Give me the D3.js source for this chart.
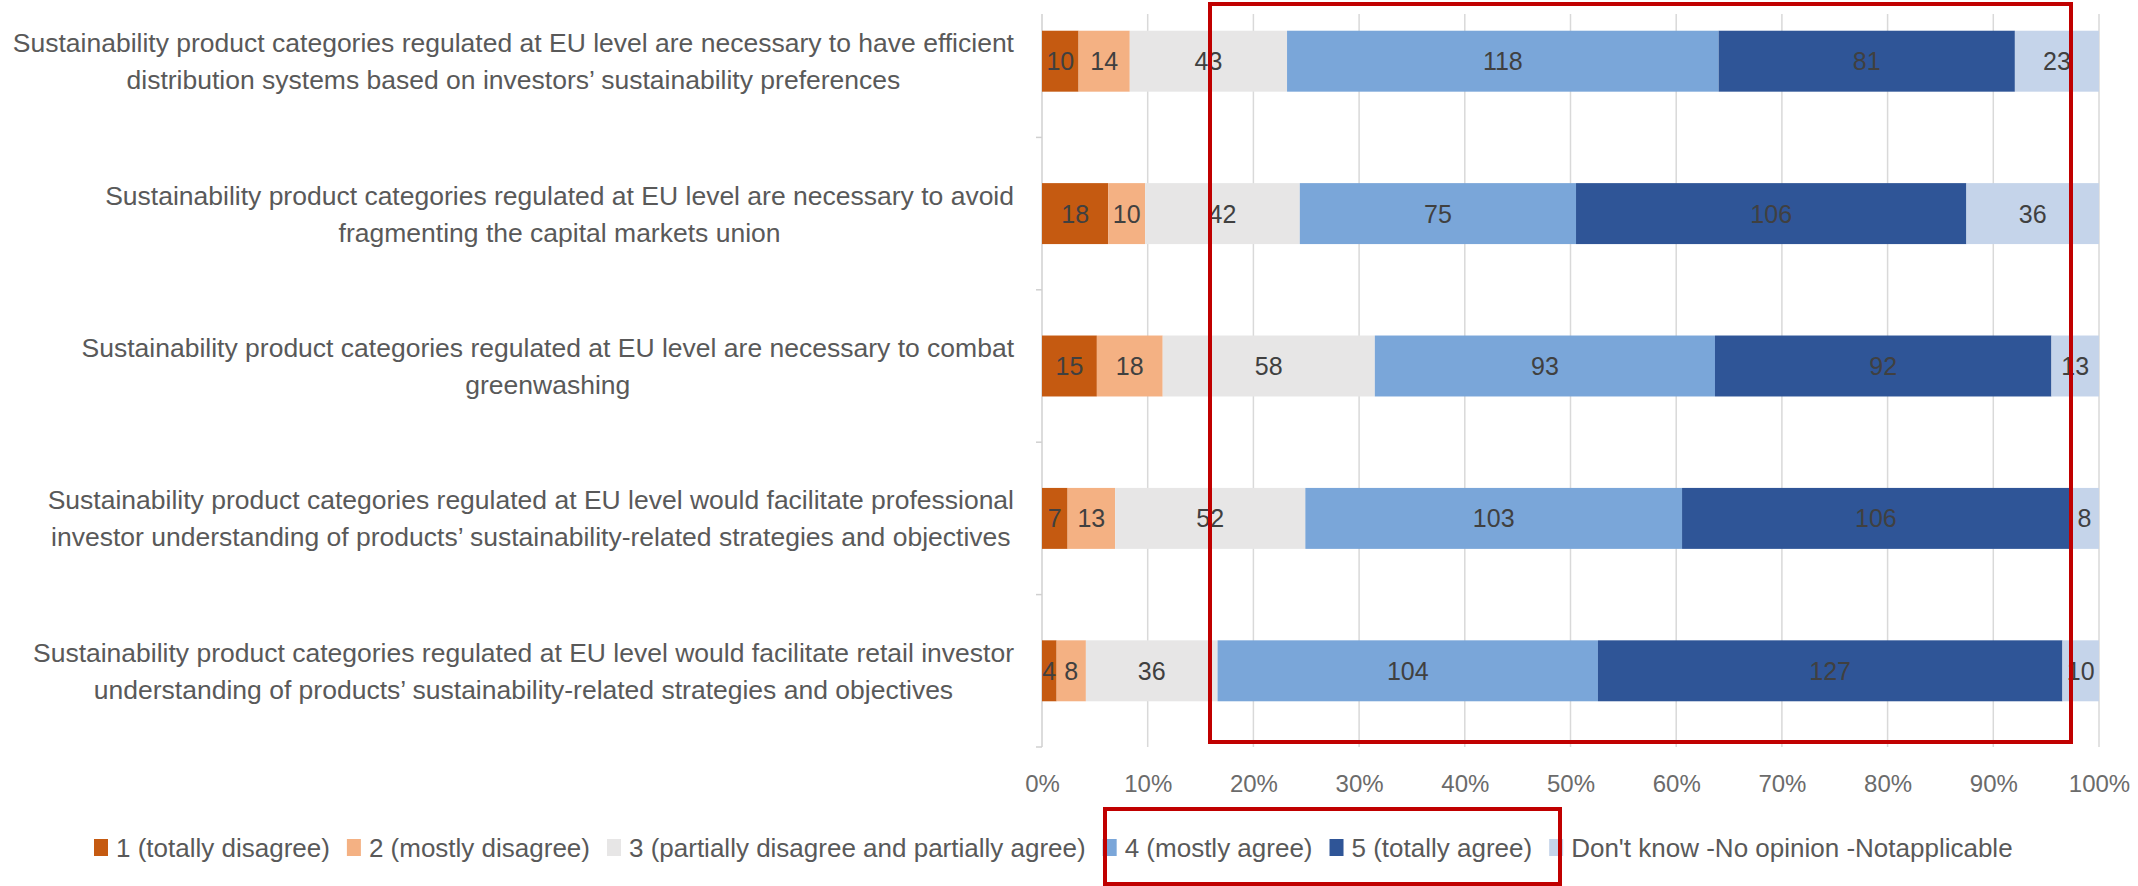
<!DOCTYPE html>
<html>
<head>
<meta charset="utf-8">
<script src="https://cdn.jsdelivr.net/npm/d3@7"></script>
<style>
  body { margin: 0; background: #fff; }
  text { font-family: "Liberation Sans", Arial, sans-serif; }
</style>
</head>
<body>
<svg id="chart" width="2138" height="886"></svg>
<script>
// statements, each split in two lines like the original
const questions = [
  ["Sustainability product categories regulated at EU level are necessary to have efficient",
   "distribution systems based on investors\u2019 sustainability preferences"],
  ["Sustainability product categories regulated at EU level are necessary to avoid",
   "fragmenting the capital markets union"],
  ["Sustainability product categories regulated at EU level are necessary to combat",
   "greenwashing"],
  ["Sustainability product categories regulated at EU level would facilitate professional",
   "investor understanding of products\u2019 sustainability-related strategies and objectives"],
  ["Sustainability product categories regulated at EU level would facilitate retail investor",
   "understanding of products\u2019 sustainability-related strategies and objectives"]
];

const answers = ["1 (totally disagree)", "2 (mostly disagree)", "3 (partially disagree and partially agree)",
                 "4 (mostly agree)", "5 (totally agree)", "Don't know -No opinion -Notapplicable"];

const totallyDisagree = [10, 18, 15, 7, 4];
const mostlyDisagree  = [14, 10, 18, 13, 8];
const partially       = [43, 42, 58, 52, 36];
const mostlyAgree     = [118, 75, 93, 103, 104];
const totallyAgree    = [81, 106, 92, 106, 127];
const dontKnow        = [23, 36, 13, 8, 10];

const tickValues = [0, 0.1, 0.2, 0.3, 0.4, 0.5, 0.6, 0.7, 0.8, 0.9, 1];

const colors = ["#c55a11", "#f4b183", "#e7e6e6", "#7aa6d9", "#2f5597", "#c5d4ea"];

let series = [totallyDisagree, mostlyDisagree, partially, mostlyAgree, totallyAgree, dontKnow];

let svg = d3.select("#chart");

let x = d3.scaleLinear().domain([0, 1]).range([1042, 2099]);
let y = d3.scaleBand()
          .domain(d3.range(questions.length))
          .range([-15, 747])
          .paddingInner(0.6)
          .paddingOuter(0.3);

// gridlines
svg.append("g")
   .selectAll("line")
   .data(tickValues.slice(1))
   .enter()
   .append("line")
   .attr("x1", (d) => x(d))
   .attr("x2", (d) => x(d))
   .attr("y1", 14)
   .attr("y2", 747)
   .attr("stroke", "#d9d9d9")
   .attr("stroke-width", 1.5);

// category axis line with ticks at the band edges
svg.append("line")
   .attr("x1", x(0)).attr("x2", x(0))
   .attr("y1", 14).attr("y2", 747)
   .attr("stroke", "#d0d0d0").attr("stroke-width", 1.5);

svg.append("g")
   .selectAll("line")
   .data(d3.range(questions.length + 1))
   .enter()
   .append("line")
   .attr("x1", x(0) - 6)
   .attr("x2", x(0))
   .attr("y1", (i) => y(0) - y.step() * 0.3 + i * y.step())
   .attr("y2", (i) => y(0) - y.step() * 0.3 + i * y.step())
   .attr("stroke", "#d0d0d0")
   .attr("stroke-width", 1.5);

// stacked segments
let rows = questions.map((q, i) => {
  let values = series.map((s) => s[i]);
  let total = d3.sum(values);
  let acc = 0;
  return values.map((v, k) => {
    let seg = {row: i, cat: k, value: v, start: acc / total, end: (acc + v) / total};
    acc += v;
    return seg;
  });
});

let segs = rows.flat();

svg.append("g")
   .selectAll("rect")
   .data(segs)
   .enter()
   .append("rect")
   .attr("x", (d) => x(d.start))
   .attr("y", (d) => y(d.row))
   .attr("width", (d) => x(d.end) - x(d.start))
   .attr("height", y.bandwidth())
   .attr("fill", (d) => colors[d.cat]);

svg.append("g")
   .selectAll("text")
   .data(segs)
   .enter()
   .append("text")
   .attr("x", (d) => (x(d.start) + x(d.end)) / 2)
   .attr("y", (d) => y(d.row) + y.bandwidth() / 2)
   .attr("dy", "0.36em")
   .attr("text-anchor", "middle")
   .attr("font-size", 25)
   .attr("fill", "#404040")
   .text((d) => d.value);

// x axis labels
let xAxis = d3.axisBottom(x)
              .tickValues(tickValues)
              .tickSize(0)
              .tickPadding(0)
              .tickFormat(d3.format(".0%"));

let gx = svg.append("g")
            .attr("transform", "translate(0,792)")
            .call(xAxis);
gx.select(".domain").remove();
gx.selectAll("text")
  .attr("font-size", 24)
  .attr("font-family", "'Liberation Sans', Arial, sans-serif")
  .attr("fill", "#6b6b6b")
  .attr("dy", 0);

// category labels: lines centred on each other, block right edge at 1014
let labelGroups = svg.append("g")
   .selectAll("g")
   .data(questions)
   .enter()
   .append("g");

labelGroups.each(function (lines, i) {
  let g = d3.select(this);
  let texts = g.selectAll("text")
    .data(lines)
    .enter()
    .append("text")
    .attr("y", (d, j) => y(i) + y.bandwidth() / 2 + (j - 0.5) * 37)
    .attr("dy", "0.36em")
    .attr("text-anchor", "middle")
    .attr("font-size", 26.5)
    .attr("fill", "#595959")
    .text((d) => d);
  let maxW = d3.max(texts.nodes(), (n) => n.getComputedTextLength());
  texts.attr("x", 1014 - maxW / 2);
});

// legend
let legend = svg.append("g").attr("transform", "translate(94,848)");
let lx = 0;
answers.forEach((a, k) => {
  legend.append("rect")
        .attr("x", lx)
        .attr("y", -9)
        .attr("width", 14)
        .attr("height", 17)
        .attr("fill", colors[k]);
  let t = legend.append("text")
        .attr("x", lx + 22)
        .attr("y", 0)
        .attr("dy", "0.36em")
        .attr("font-size", 26)
        .attr("fill", "#595959")
        .text(a);
  lx += 22 + t.node().getComputedTextLength() + 17;
});

// red highlight boxes
svg.append("rect")
   .attr("x", 1210).attr("y", 4)
   .attr("width", 861).attr("height", 738)
   .attr("fill", "none")
   .attr("stroke", "#c00000")
   .attr("stroke-width", 4);

svg.append("rect")
   .attr("x", 1105).attr("y", 809)
   .attr("width", 455).attr("height", 75)
   .attr("fill", "none")
   .attr("stroke", "#c00000")
   .attr("stroke-width", 4);
</script>
</body>
</html>
